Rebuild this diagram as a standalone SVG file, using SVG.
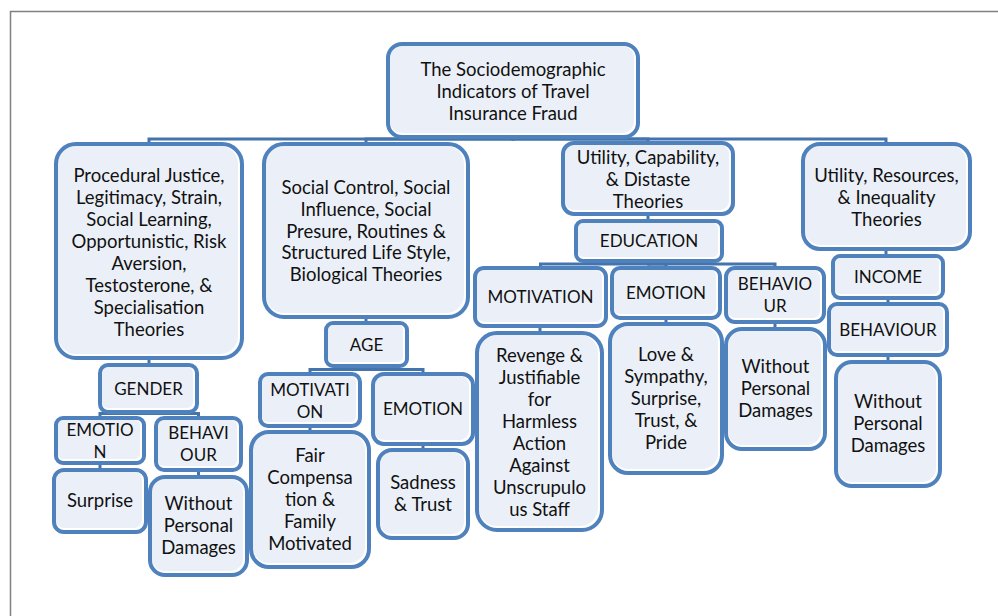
<svg xmlns="http://www.w3.org/2000/svg" width="998" height="616" viewBox="0 0 998 616">
<defs>
<style>
.frame{fill:none;stroke:#808080;stroke-width:1.5}
.bg{fill:#ffffff}
.in{fill:#EBF0F8}
.bd{fill:none;stroke:#4F81BD;stroke-width:4}
.cn{fill:none;stroke:#4474AE;stroke-width:3}
text{font-family:Lato,"Open Sans","Liberation Sans",sans-serif;font-size:18.5px;fill:#111;text-anchor:middle}
text.u{font-size:17px}
</style>
</defs>
<rect x="0" y="0" width="998" height="616" fill="#ffffff"/>
<path class="frame" d="M10.5,616 V11.5 H998"/>
<g id="connectors">
<path class="cn" d="M513,137 V139 H149 V144"/>
<path class="cn" d="M513,137 V139 H366 V144"/>
<path class="cn" d="M513,137 V139 H648 V143"/>
<path class="cn" d="M513,137 V139 H886 V144"/>
<path class="cn" d="M149,358 V365"/>
<path class="cn" d="M148.5,412 V413.5 H100 V418"/>
<path class="cn" d="M148.5,412 V413.5 H198.5 V418"/>
<path class="cn" d="M100,463 V470"/>
<path class="cn" d="M198.5,470 V477"/>
<path class="cn" d="M366,317 V323"/>
<path class="cn" d="M366.5,366 V369.5 H310 V374"/>
<path class="cn" d="M366.5,366 V369.5 H423 V374"/>
<path class="cn" d="M310,426 V432"/>
<path class="cn" d="M423,444 V450"/>
<path class="cn" d="M648,214 V221"/>
<path class="cn" d="M649,261 V264 H540.5 V268"/>
<path class="cn" d="M649,261 V264 H666 V268"/>
<path class="cn" d="M649,261 V264 H775 V268"/>
<path class="cn" d="M540,326 V333"/>
<path class="cn" d="M666,318 V324"/>
<path class="cn" d="M775,322 V329"/>
<path class="cn" d="M886,249 V256"/>
<path class="cn" d="M888,298 V304"/>
<path class="cn" d="M888,355 V362"/>
</g>
<g id="n-root">
<rect class="bg" x="388" y="44" width="250" height="93" rx="14"/>
<rect class="in" x="390" y="46" width="244" height="87" rx="12"/>
<rect class="bd" x="388" y="44" width="250" height="93" rx="14"/>
<text x="513" y="76">The Sociodemographic</text>
<text x="513" y="98">Indicators of Travel</text>
<text x="513" y="120">Insurance Fraud</text>
</g>
<g id="n-procedural">
<rect class="bg" x="56" y="144" width="186" height="214" rx="20"/>
<rect class="in" x="58" y="146" width="180" height="208" rx="18"/>
<rect class="bd" x="56" y="144" width="186" height="214" rx="20"/>
<text x="149" y="182">Procedural Justice,</text>
<text x="149" y="204">Legitimacy, Strain,</text>
<text x="149" y="226">Social Learning,</text>
<text x="149" y="248">Opportunistic, Risk</text>
<text x="149" y="270">Aversion,</text>
<text x="149" y="292">Testosterone, &amp;</text>
<text x="149" y="314">Specialisation</text>
<text x="149" y="336">Theories</text>
</g>
<g id="n-social">
<rect class="bg" x="264" y="144" width="204" height="173" rx="20"/>
<rect class="in" x="266" y="146" width="198" height="167" rx="18"/>
<rect class="bd" x="264" y="144" width="204" height="173" rx="20"/>
<text x="366" y="194">Social Control, Social</text>
<text x="366" y="216">Influence, Social</text>
<text x="366" y="238">Presure, Routines &amp;</text>
<text x="366" y="259">Structured Life Style,</text>
<text x="366" y="281">Biological Theories</text>
</g>
<g id="n-utilcap">
<rect class="bg" x="563" y="143" width="170" height="71" rx="11"/>
<rect class="in" x="565" y="145" width="164" height="65" rx="9"/>
<rect class="bd" x="563" y="143" width="170" height="71" rx="11"/>
<text x="648" y="164">Utility, Capability,</text>
<text x="648" y="186">&amp; Distaste</text>
<text x="648" y="208">Theories</text>
</g>
<g id="n-utilres">
<rect class="bg" x="803" y="144" width="167" height="105" rx="17"/>
<rect class="in" x="805" y="146" width="161" height="99" rx="15"/>
<rect class="bd" x="803" y="144" width="167" height="105" rx="17"/>
<text x="886.5" y="182">Utility, Resources,</text>
<text x="886.5" y="204">&amp; Inequality</text>
<text x="886.5" y="226">Theories</text>
</g>
<g id="n-gender">
<rect class="bg" x="100" y="365" width="97" height="47" rx="8"/>
<rect class="in" x="102" y="367" width="91" height="41" rx="6"/>
<rect class="bd" x="100" y="365" width="97" height="47" rx="8"/>
<text class="u" x="148.5" y="395">GENDER</text>
</g>
<g id="n-age">
<rect class="bg" x="326" y="323" width="81" height="43" rx="7"/>
<rect class="in" x="328" y="325" width="75" height="37" rx="5"/>
<rect class="bd" x="326" y="323" width="81" height="43" rx="7"/>
<text class="u" x="366.5" y="351">AGE</text>
</g>
<g id="n-education">
<rect class="bg" x="576" y="221" width="146" height="40" rx="7"/>
<rect class="in" x="578" y="223" width="140" height="34" rx="5"/>
<rect class="bd" x="576" y="221" width="146" height="40" rx="7"/>
<text class="u" x="649" y="247">EDUCATION</text>
</g>
<g id="n-income">
<rect class="bg" x="833" y="256" width="110" height="42" rx="7"/>
<rect class="in" x="835" y="258" width="104" height="36" rx="5"/>
<rect class="bd" x="833" y="256" width="110" height="42" rx="7"/>
<text class="u" x="888" y="283">INCOME</text>
</g>
<g id="n-gender-emotion">
<rect class="bg" x="56" y="418" width="88" height="45" rx="7"/>
<rect class="in" x="58" y="420" width="82" height="39" rx="5"/>
<rect class="bd" x="56" y="418" width="88" height="45" rx="7"/>
<text class="u" x="100" y="436">EMOTIO</text>
<text class="u" x="100" y="458">N</text>
</g>
<g id="n-gender-behaviour">
<rect class="bg" x="156" y="418" width="85" height="52" rx="8"/>
<rect class="in" x="158" y="420" width="79" height="46" rx="6"/>
<rect class="bd" x="156" y="418" width="85" height="52" rx="8"/>
<text class="u" x="198.5" y="439">BEHAVI</text>
<text class="u" x="198.5" y="461">OUR</text>
</g>
<g id="n-surprise">
<rect class="bg" x="54" y="470" width="92" height="62" rx="10"/>
<rect class="in" x="56" y="472" width="86" height="56" rx="8"/>
<rect class="bd" x="54" y="470" width="92" height="62" rx="10"/>
<text x="100" y="507">Surprise</text>
</g>
<g id="n-gender-without">
<rect class="bg" x="150" y="477" width="97" height="98" rx="15"/>
<rect class="in" x="152" y="479" width="91" height="92" rx="13"/>
<rect class="bd" x="150" y="477" width="97" height="98" rx="15"/>
<text x="198.5" y="510">Without</text>
<text x="198.5" y="532">Personal</text>
<text x="198.5" y="554">Damages</text>
</g>
<g id="n-age-motivation">
<rect class="bg" x="260" y="374" width="100" height="52" rx="8"/>
<rect class="in" x="262" y="376" width="94" height="46" rx="6"/>
<rect class="bd" x="260" y="374" width="100" height="52" rx="8"/>
<text class="u" x="310" y="396">MOTIVATI</text>
<text class="u" x="310" y="418">ON</text>
</g>
<g id="n-age-emotion">
<rect class="bg" x="373" y="374" width="100" height="70" rx="11"/>
<rect class="in" x="375" y="376" width="94" height="64" rx="9"/>
<rect class="bd" x="373" y="374" width="100" height="70" rx="11"/>
<text class="u" x="423" y="415">EMOTION</text>
</g>
<g id="n-fair">
<rect class="bg" x="251" y="432" width="118" height="135" rx="18"/>
<rect class="in" x="253" y="434" width="112" height="129" rx="16"/>
<rect class="bd" x="251" y="432" width="118" height="135" rx="18"/>
<text x="310" y="462">Fair</text>
<text x="310" y="484">Compensa</text>
<text x="310" y="506">tion &amp;</text>
<text x="310" y="528">Family</text>
<text x="310" y="550">Motivated</text>
</g>
<g id="n-sadness">
<rect class="bg" x="378" y="450" width="90" height="88" rx="14"/>
<rect class="in" x="380" y="452" width="84" height="82" rx="12"/>
<rect class="bd" x="378" y="450" width="90" height="88" rx="14"/>
<text x="423" y="489">Sadness</text>
<text x="423" y="511">&amp; Trust</text>
</g>
<g id="n-edu-motivation">
<rect class="bg" x="475" y="268" width="131" height="58" rx="9"/>
<rect class="in" x="477" y="270" width="125" height="52" rx="7"/>
<rect class="bd" x="475" y="268" width="131" height="58" rx="9"/>
<text class="u" x="540.5" y="303">MOTIVATION</text>
</g>
<g id="n-edu-emotion">
<rect class="bg" x="612" y="268" width="108" height="50" rx="8"/>
<rect class="in" x="614" y="270" width="102" height="44" rx="6"/>
<rect class="bd" x="612" y="268" width="108" height="50" rx="8"/>
<text class="u" x="666" y="299">EMOTION</text>
</g>
<g id="n-edu-behaviour">
<rect class="bg" x="726" y="268" width="98" height="54" rx="9"/>
<rect class="in" x="728" y="270" width="92" height="48" rx="7"/>
<rect class="bd" x="726" y="268" width="98" height="54" rx="9"/>
<text class="u" x="775" y="290">BEHAVIO</text>
<text class="u" x="775" y="312">UR</text>
</g>
<g id="n-revenge">
<rect class="bg" x="477" y="333" width="125" height="197" rx="20"/>
<rect class="in" x="479" y="335" width="119" height="191" rx="18"/>
<rect class="bd" x="477" y="333" width="125" height="197" rx="20"/>
<text x="539.5" y="362">Revenge &amp;</text>
<text x="539.5" y="384">Justifiable</text>
<text x="539.5" y="406">for</text>
<text x="539.5" y="428">Harmless</text>
<text x="539.5" y="450">Action</text>
<text x="539.5" y="472">Against</text>
<text x="539.5" y="494">Unscrupulo</text>
<text x="539.5" y="516">us Staff</text>
</g>
<g id="n-love">
<rect class="bg" x="610" y="324" width="112" height="149" rx="18"/>
<rect class="in" x="612" y="326" width="106" height="143" rx="16"/>
<rect class="bd" x="610" y="324" width="112" height="149" rx="18"/>
<text x="666" y="361">Love &amp;</text>
<text x="666" y="383">Sympathy,</text>
<text x="666" y="405">Surprise,</text>
<text x="666" y="427">Trust, &amp;</text>
<text x="666" y="449">Pride</text>
</g>
<g id="n-edu-without">
<rect class="bg" x="726" y="329" width="99" height="120" rx="16"/>
<rect class="in" x="728" y="331" width="93" height="114" rx="14"/>
<rect class="bd" x="726" y="329" width="99" height="120" rx="16"/>
<text x="775.5" y="373">Without</text>
<text x="775.5" y="395">Personal</text>
<text x="775.5" y="417">Damages</text>
</g>
<g id="n-income-behaviour">
<rect class="bg" x="829" y="304" width="118" height="51" rx="8"/>
<rect class="in" x="831" y="306" width="112" height="45" rx="6"/>
<rect class="bd" x="829" y="304" width="118" height="51" rx="8"/>
<text class="u" x="888" y="336">BEHAVIOUR</text>
</g>
<g id="n-income-without">
<rect class="bg" x="836" y="362" width="104" height="124" rx="16"/>
<rect class="in" x="838" y="364" width="98" height="118" rx="14"/>
<rect class="bd" x="836" y="362" width="104" height="124" rx="16"/>
<text x="888" y="408">Without</text>
<text x="888" y="430">Personal</text>
<text x="888" y="452">Damages</text>
</g>
</svg>
